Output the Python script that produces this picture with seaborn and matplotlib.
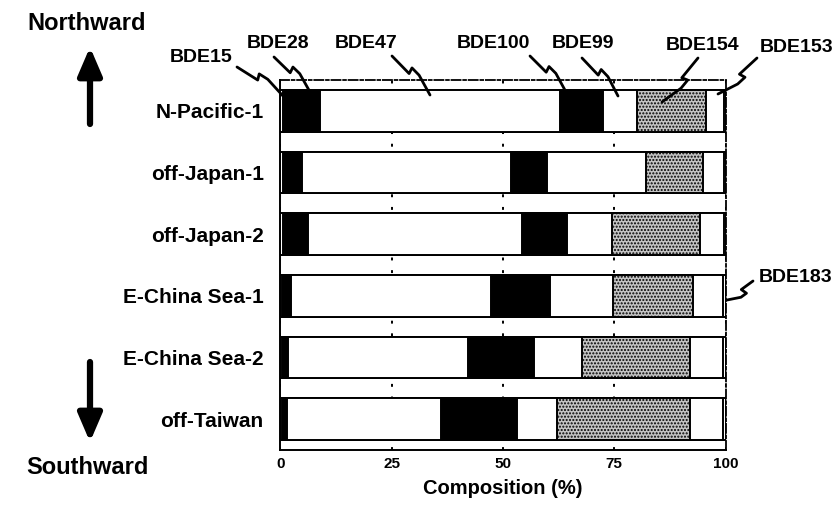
import numpy as np
import pandas as pd
import matplotlib
matplotlib.use("Agg")
import matplotlib.pyplot as plt
import seaborn as sns
from matplotlib.lines import Line2D

sns.set_theme(style="white")
plt.rcParams["font.family"] = ["Liberation Sans", "DejaVu Sans"]
plt.rcParams["font.weight"] = "bold"
plt.rcParams["text.color"] = "black"
plt.rcParams["axes.labelcolor"] = "black"
plt.rcParams["hatch.linewidth"] = 1.0

stations = ["N-Pacific-1", "off-Japan-1", "off-Japan-2",
            "E-China Sea-1", "E-China Sea-2", "off-Taiwan"]
congeners = ["BDE15", "BDE28", "BDE47", "BDE100", "BDE99", "BDE154", "BDE153", "BDE183"]

# composition (%) of each congener per station
bde15 = [0.5, 0.5, 0.5, 0.3, 0.3, 0.3]
bde28 = [8.5, 4.3, 5.6, 2.0, 1.5, 1.2]
bde47 = [53.8, 47.1, 48.2, 45.1, 40.3, 34.5]
bde100 = [9.6, 7.9, 10.0, 13.1, 14.9, 17.2]
bde99 = [7.6, 22.3, 10.1, 14.3, 10.7, 9.0]
bde154 = [15.7, 12.9, 19.8, 17.8, 24.4, 29.9]
bde153 = [3.9, 4.6, 5.4, 6.8, 7.4, 7.4]
bde183 = [0.4, 0.4, 0.4, 0.6, 0.5, 0.5]

df = pd.DataFrame({"BDE15": bde15, "BDE28": bde28, "BDE47": bde47, "BDE100": bde100,
                   "BDE99": bde99, "BDE154": bde154, "BDE153": bde153, "BDE183": bde183},
                  index=stations)
cum = df.cumsum(axis=1)

fills = {"BDE15": "white", "BDE28": "black", "BDE47": "white", "BDE100": "black",
         "BDE99": "white", "BDE154": "#c4c4c4", "BDE153": "white", "BDE183": "white"}

W, H = 835, 505
fig = plt.figure(figsize=(W / 100, H / 100), dpi=100)
ax = fig.add_axes([280.4 / W, (H - 450) / H, 445.2 / W, 370 / H])

# stacked bars: draw cumulative totals from the longest to the shortest
for name in reversed(congeners):
    sns.barplot(x=cum[name].values, y=stations, orient="h", color=fills[name],
                saturation=1, width=0.68, edgecolor="black", linewidth=1.4,
                hatch="....." if name == "BDE154" else None, ax=ax, zorder=2)

ax.set_xlim(0, 100)
ax.set_xticks([0, 25, 50, 75, 100])
ax.set_xticklabels(["0", "25", "50", "75", "100"], fontsize=11, fontweight="bold")
ax.set_yticklabels(stations, fontsize=15, fontweight="bold")
ax.tick_params(axis="both", length=0, colors="black")
ax.tick_params(axis="x", pad=5)
ax.tick_params(axis="y", pad=12)
ax.set_xlabel("Composition (%)", fontsize=14.5, fontweight="bold", labelpad=6)
ax.set_ylabel("")

ax.set_axisbelow(True)
ax.xaxis.grid(True, linestyle=(0, (1.5, 5)), color="black", linewidth=1.4)
ax.yaxis.grid(False)
for side in ["left", "bottom"]:
    ax.spines[side].set_color("black")
    ax.spines[side].set_linewidth(1.4)
for side in ["top", "right"]:
    ax.spines[side].set_color("black")
    ax.spines[side].set_linewidth(1.3)
    ax.spines[side].set_linestyle((0, (5, 1.5, 1.5, 1.5)))


def fx(px):
    return px / W


def fy(py):
    return (H - py) / H


# direction labels with arrows
fig.text(fx(87), fy(24), "Northward", fontsize=17, fontweight="bold", ha="center", va="center")
fig.text(fx(87), fy(468), "Southward", fontsize=17, fontweight="bold", ha="center", va="center")
arrow = dict(arrowstyle="-|>,head_width=0.6,head_length=1.4", color="black", lw=4.5,
             shrinkA=0, shrinkB=0)
fig.add_artist(plt.Annotation("", xy=(fx(90), fy(47)), xytext=(fx(90), fy(124)),
                              xycoords="figure fraction", textcoords="figure fraction",
                              arrowprops=arrow))
fig.add_artist(plt.Annotation("", xy=(fx(90), fy(442)), xytext=(fx(90), fy(362)),
                              xycoords="figure fraction", textcoords="figure fraction",
                              arrowprops=arrow))

# congener labels with broken leader lines
labels = [
    ("BDE15", 201, 58, (237, 67), (283, 96)),
    ("BDE28", 278, 43, (274, 57), (310, 92)),
    ("BDE47", 366, 43, (392, 56), (430, 95)),
    ("BDE100", 493, 43, (530, 56), (566, 92)),
    ("BDE99", 583, 43, (582, 58), (618, 96)),
    ("BDE154", 703, 45, (698, 58), (662, 102)),
    ("BDE153", 797, 48, (757, 58), (718, 94)),
    ("BDE183", 796, 278, (753, 281), (727, 300)),
]
for text, tx, ty, p0, p1 in labels:
    fig.text(fx(tx), fy(ty), text, fontsize=14, fontweight="bold", ha="center", va="center")
    p0 = np.array(p0, float)
    p1 = np.array(p1, float)
    d = p1 - p0
    u = d / np.linalg.norm(d)
    n = np.array([u[1], -u[0]])
    a = p0 + 0.45 * d
    b = a + n * 6 - u * 2
    c = p0 + 0.6 * d + n * 6
    pts = np.array([p0, a, b, c, p1])
    fig.add_artist(Line2D(fx(pts[:, 0]), fy(pts[:, 1]), color="black", lw=2))

fig.savefig("out.png", dpi=100, facecolor="white")
